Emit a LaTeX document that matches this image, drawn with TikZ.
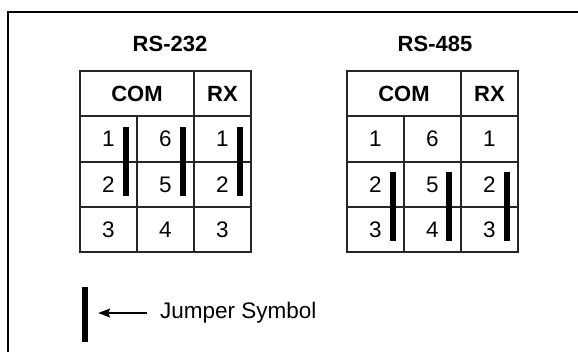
\documentclass[tikz,border=0pt]{standalone}
\usepackage{fontspec}
\setmainfont{Liberation Sans}
\usetikzlibrary{arrows.meta}
\tikzset{
  tbl/.style={draw=black!85, line width=1.2pt},
  lbl/.style={font=\fontsize{22.5}{26}\selectfont, inner sep=0pt},
  hd/.style={font=\fontsize{22}{26}\selectfont\bfseries, inner sep=0pt},
  jump/.style={fill=black, draw=none, minimum width=6pt, inner sep=0pt},
}
\begin{document}
\begin{tikzpicture}[x=1pt,y=-1pt]
\useasboundingbox (0,0) rectangle (578,352);
\draw[line width=1.7pt] (578,12) -- (8,12) -- (8,352);
% ---- RS-232 table
\node[hd] (t1) at (170,44) {RS-232};
\draw[tbl] (80,71) rectangle (251,252);
\draw[tbl] (80,116) -- (251,116) (80,162) -- (251,162) (80,207) -- (251,207);
\draw[tbl] (194,71) -- (194,252) (137,116) -- (137,252);
\node[hd] (c1) at (137,94) {COM};
\node[hd] (r1) at (222.5,94) {RX};
\node[lbl] (a1) at (108.5,139) {1};
\node[lbl] (a2) at (165.5,139) {6};
\node[lbl] (a3) at (222.5,139) {1};
\node[lbl] (a4) at (108.5,184.5) {2};
\node[lbl] (a5) at (165.5,184.5) {5};
\node[lbl] (a6) at (222.5,184.5) {2};
\node[lbl] (a7) at (108.5,229.5) {3};
\node[lbl] (a8) at (165.5,229.5) {4};
\node[lbl] (a9) at (222.5,229.5) {3};
\node[jump, minimum height=69pt] (j1) at (126,161.5) {};
\node[jump, minimum height=69pt] (j2) at (183,161.5) {};
\node[jump, minimum height=69pt] (j3) at (240,161.5) {};
% ---- RS-485 table
\node[hd] (t2) at (435,44) {RS-485};
\draw[tbl] (347,71) rectangle (518,252);
\draw[tbl] (347,116) -- (518,116) (347,162) -- (518,162) (347,207) -- (518,207);
\draw[tbl] (461,71) -- (461,252) (404,116) -- (404,252);
\node[hd] (c2) at (404,94) {COM};
\node[hd] (r2) at (489.5,94) {RX};
\node[lbl] (b1) at (375.5,139) {1};
\node[lbl] (b2) at (432.5,139) {6};
\node[lbl] (b3) at (489.5,139) {1};
\node[lbl] (b4) at (375.5,184.5) {2};
\node[lbl] (b5) at (432.5,184.5) {5};
\node[lbl] (b6) at (489.5,184.5) {2};
\node[lbl] (b7) at (375.5,229.5) {3};
\node[lbl] (b8) at (432.5,229.5) {4};
\node[lbl] (b9) at (489.5,229.5) {3};
\node[jump, minimum height=69pt] (k1) at (392.5,206.5) {};
\node[jump, minimum height=69pt] (k2) at (449,206.5) {};
\node[jump, minimum height=69pt] (k3) at (506.5,206.5) {};
% ---- legend
\node[jump, minimum height=55pt] (jl) at (85,314.5) {};
\node[lbl, anchor=west] (jt) at (160,313) {Jumper Symbol};
\coordinate (as) at (147,313);
\draw[line width=1.3pt, -{Stealth[length=12pt,width=9pt,inset=2pt]}, shorten >=10pt] (as) -- (jl.east |- as);
\end{tikzpicture}
\end{document}
